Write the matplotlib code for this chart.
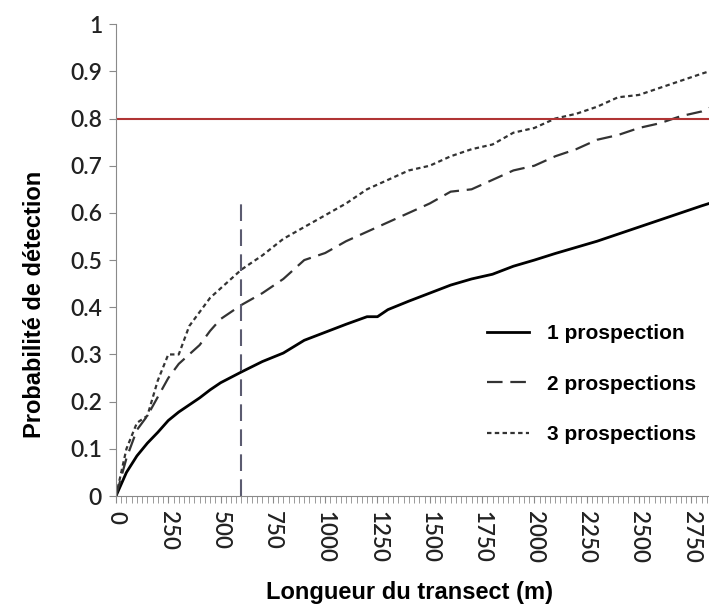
import matplotlib.pyplot as plt
from matplotlib.ticker import MultipleLocator

# transect length (m) and detection probability
longueur = [0, 50, 100, 150, 200, 250, 300, 350, 400, 450, 500, 600, 700, 800, 900,
            1000, 1100, 1200, 1250, 1300, 1400, 1500, 1600, 1700, 1800, 1900, 2000,
            2100, 2200, 2300, 2400, 2500, 2600, 2700, 2800, 2850]
p_1 = [0, 0.05, 0.085, 0.112, 0.135, 0.16, 0.178, 0.193, 0.208, 0.225, 0.24, 0.263,
       0.285, 0.303, 0.33, 0.347, 0.364, 0.38, 0.38, 0.395, 0.413, 0.43, 0.447, 0.46,
       0.47, 0.487, 0.5, 0.514, 0.527, 0.54, 0.555, 0.57, 0.585, 0.6, 0.615, 0.622]
p_2 = [0, 0.08, 0.14, 0.17, 0.21, 0.25, 0.28, 0.3, 0.32, 0.35, 0.375, 0.405,
       0.43, 0.46, 0.5, 0.515, 0.54, 0.56, 0.57, 0.58, 0.6, 0.62, 0.645, 0.65,
       0.67, 0.69, 0.7, 0.72, 0.735, 0.755, 0.765, 0.78, 0.79, 0.805, 0.815, 0.825]
p_3 = [0, 0.1, 0.155, 0.17, 0.245, 0.3, 0.3, 0.36, 0.39, 0.42, 0.44, 0.48,
       0.51, 0.545, 0.57, 0.595, 0.62, 0.65, 0.66, 0.67, 0.69, 0.7, 0.72, 0.735,
       0.745, 0.77, 0.78, 0.8, 0.81, 0.825, 0.845, 0.85, 0.865, 0.88, 0.895, 0.902]

seuil_p = 0.8
seuil_longueur = 600
seuil_haut = 0.63

fig = plt.figure(figsize=(7.09, 6.04), dpi=100)
ax = fig.add_axes([0.1636, 0.1788, 0.8364, 0.7812])

ax.plot(longueur, p_1, color='black', lw=2, label='1 prospection')
ax.plot(longueur, p_2, color='#333333', lw=1.6, dashes=(7, 3.5), label='2 prospections')
ax.plot(longueur, p_3, color='#333333', lw=1.6, dashes=(2, 1.5), label='3 prospections')

ax.axhline(seuil_p, color='#b03434', lw=1.5)
ax.plot([seuil_longueur, seuil_longueur], [0, seuil_haut], color='#5b5b70',
        lw=1.5, dashes=(8, 4))

ax.set_xlim(0, 2835)
ax.set_ylim(0, 1)

ax.xaxis.set_major_locator(MultipleLocator(250))
ax.xaxis.set_minor_locator(MultipleLocator(25))
ax.set_yticks([i / 10 for i in range(11)])
ax.set_yticklabels(['0', '0.1', '0.2', '0.3', '0.4', '0.5', '0.6', '0.7', '0.8', '0.9', '1'])

for s in ['top', 'right']:
    ax.spines[s].set_visible(False)
ax.spines['left'].set_color('#8a8a8a')
ax.spines['bottom'].set_color('#8a8a8a')
ax.tick_params(axis='both', which='both', color='#8a8a8a', length=5, direction='out')
ax.tick_params(axis='y', labelsize=16.5, pad=5)
ax.tick_params(axis='x', labelsize=16, labelrotation=270, pad=6)
for lab in ax.get_xticklabels() + ax.get_yticklabels():
    lab.set_fontfamily('Lato')
    lab.set_fontweight('semibold')
    lab.set_color('#222222')

ax.set_xlabel('Longueur du transect (m)', fontsize=17, fontweight='bold',
              family='Liberation Sans')
ax.set_ylabel('Probabilité de détection', fontsize=17, fontweight='bold',
              family='Liberation Sans')
ax.xaxis.set_label_coords(0.495, -0.2055)
ax.xaxis.label.set_va('center')
ax.yaxis.set_label_coords(-0.137, 0.407)
ax.yaxis.label.set_va('center')

ax.legend(loc='upper left', bbox_to_anchor=(0.687, 0.463), bbox_transform=fig.transFigure,
          frameon=False, borderpad=0, borderaxespad=0,
          prop={'family': 'Liberation Sans', 'weight': 'bold', 'size': 15},
          handlelength=2.0, labelspacing=1.5, handletextpad=0.9)

fig.savefig('out.png', dpi=100)
